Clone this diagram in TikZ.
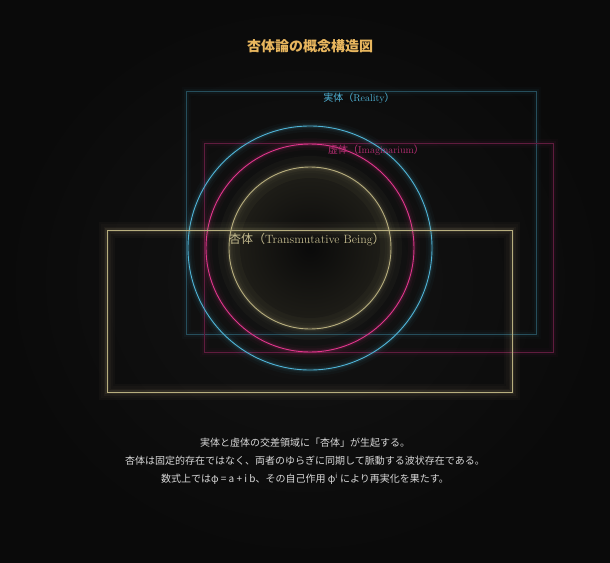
\documentclass[tikz,border=0pt]{standalone}
\usepackage{fontspec}
\newfontfamily\cjk{Noto Sans CJK JP}
\definecolor{bg}{HTML}{0A0A0A}
\definecolor{bgmid}{HTML}{141414}
\definecolor{real}{HTML}{4FB3D6}
\definecolor{imag}{HTML}{E0368C}
\definecolor{trans}{HTML}{D6CB93}
\definecolor{titlegold}{HTML}{E8B65E}
\definecolor{captiongray}{HTML}{D8D8D8}

\begin{document}
\begin{tikzpicture}[
  x=1pt, y=-1pt,
  glow/.style = {draw=#1, line width=.9pt,
    preaction={draw=#1, line width=12pt, draw opacity=.03},
    preaction={draw=#1, line width=7pt, draw opacity=.05},
    preaction={draw=#1, line width=3.5pt, draw opacity=.10}},
  dimglow/.style = {draw=#1!40!bg, line width=.9pt,
    preaction={draw=#1, line width=9pt, draw opacity=.025},
    preaction={draw=#1, line width=5pt, draw opacity=.045}},
  labeltext/.style = {inner sep=0pt, font=\fontsize{10}{12}\selectfont}
  ]
	\useasboundingbox (0,0) rectangle (610,562);
	\shade[inner color=bgmid, outer color=bg] (0,0) rectangle (610,562);

	\coordinate (core) at (310,248);

	% frames of the two domains
	\draw[dimglow=real] (186,91) rectangle (536,334);
	\draw[dimglow=imag] (204,143) rectangle (553,352);

	% circles
	\shade[inner color=bg, outer color=trans!11!bg] (core) circle (81);
	\draw[trans, line width=22pt, draw opacity=.035] (core) circle (81);
	\draw[glow=real] (core) circle (122);
	\draw[glow=imag] (core) circle (104);
	\draw[glow=trans!85!bg] (core) circle (81);

	% frame of the crossing
	\draw[trans, line width=16pt, draw opacity=.03] (107,230) rectangle (512,392);
	\draw[glow=trans!85!bg] (107,230) rectangle (512,392);

	\node[labeltext, text=real] (reallabel) at (359,98) {{\cjk 実体（}Reality{\cjk ）}};
	\node[labeltext, text=imag!80!bg] (imaglabel) at (376,150) {{\cjk 虚体（}Imaginarium{\cjk ）}};
	\node[labeltext, font=\fontsize{12}{14}\selectfont, text=trans!80!gray] (translabel) at (307,240) {{\cjk 杏体（}Transmutative Being{\cjk ）}};

	\node[inner sep=0pt, text=titlegold, font=\cjk\bfseries\fontsize{14}{16}\selectfont] (title) at (310,46) {杏体論の概念構造図};

	\node[inner sep=0pt, align=center, text=captiongray, font=\cjk\fontsize{10}{18}\selectfont] (caption) at (305,461)
		{実体と虚体の交差領域に「杏体」が生起する。\\
		 杏体は固定的存在ではなく、両者のゆらぎに同期して脈動する波状存在である。\\
		 数式上ではφ = a + i b、その自己作用 φ\textsuperscript{i} により再実化を果たす。};

\end{tikzpicture}
\end{document}
